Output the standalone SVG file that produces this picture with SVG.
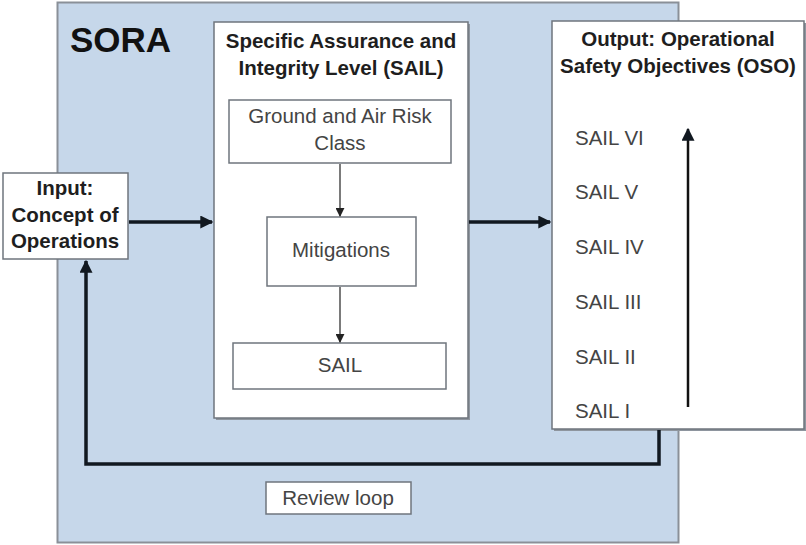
<svg xmlns="http://www.w3.org/2000/svg" width="806" height="545" viewBox="0 0 806 545">
<defs>
<style>
.box{fill:#ffffff;stroke:#6f757d;stroke-width:1.5}
.shadow{fill:#8e959e}
.title{font-family:"Liberation Sans",Arial,sans-serif;font-weight:bold;font-size:20.5px;fill:#1e1e1e;text-anchor:middle}
.lbl{font-family:"Liberation Sans",Arial,sans-serif;font-size:20.5px;fill:#444;text-anchor:middle}
.sail{font-family:"Liberation Sans",Arial,sans-serif;font-size:20.5px;fill:#444}
.thick{stroke:#111820;stroke-width:3.5;fill:none}
.thin{stroke:#333;stroke-width:1.3;fill:none}
</style>
<marker id="big" viewBox="0 0 10 10" refX="9" refY="5" markerWidth="13" markerHeight="13" markerUnits="userSpaceOnUse" orient="auto">
<path d="M0,0 L10,5 L0,10 z" fill="#111820"/>
</marker>
<marker id="small" viewBox="0 0 10 10" refX="9" refY="5" markerWidth="9" markerHeight="9" markerUnits="userSpaceOnUse" orient="auto">
<path d="M0,0 L10,5 L0,10 z" fill="#222"/>
</marker>
</defs>
<rect width="806" height="545" fill="#ffffff"/>
<g id="sora">
<rect x="57.5" y="2.5" width="621" height="540" fill="#c6d7ea" stroke="#8a9098" stroke-width="2"/>
<text x="70" y="52" font-family="'Liberation Sans',Arial,sans-serif" font-weight="bold" font-size="35" fill="#111">SORA</text>
</g>
<g id="input">
<rect class="box" x="3" y="173" width="125" height="86"/>
<text class="title" x="65" y="195">Input:</text>
<text class="title" x="65" y="222">Concept of</text>
<text class="title" x="65" y="248">Operations</text>
</g>
<g id="sail-panel">
<rect class="shadow" x="216" y="24" width="254" height="396"/>
<rect class="box" x="214" y="22" width="254" height="396"/>
<text class="title" x="341" y="48">Specific Assurance and</text>
<text class="title" x="341" y="75">Integrity Level (SAIL)</text>
</g>
<g id="risk-class">
<rect class="box" x="229" y="100" width="222" height="63"/>
<text class="lbl" x="340" y="123">Ground and Air Risk</text>
<text class="lbl" x="340" y="150">Class</text>
</g>
<g id="mitigations">
<rect class="box" x="267" y="217" width="149" height="69"/>
<text class="lbl" x="341" y="257">Mitigations</text>
</g>
<g id="sail">
<rect class="box" x="233" y="343" width="213" height="46"/>
<text class="lbl" x="340" y="372">SAIL</text>
</g>
<g id="output">
<rect class="shadow" x="554" y="23" width="252" height="408"/>
<rect class="box" x="552" y="21" width="252" height="408"/>
<text class="title" x="678" y="46">Output: Operational</text>
<text class="title" x="678" y="73">Safety Objectives (OSO)</text>
<text class="sail" x="575" y="145">SAIL VI</text>
<text class="sail" x="575" y="199">SAIL V</text>
<text class="sail" x="575" y="254">SAIL IV</text>
<text class="sail" x="575" y="309">SAIL III</text>
<text class="sail" x="575" y="364">SAIL II</text>
<text class="sail" x="575" y="418">SAIL I</text>
</g>
<g id="review-loop">
<rect class="box" x="266" y="482" width="145" height="32"/>
<text class="lbl" x="338" y="505">Review loop</text>
</g>
<g id="connectors">
<line class="thick" x1="129" y1="222" x2="212" y2="222" marker-end="url(#big)"/>
<line class="thick" x1="469" y1="222" x2="550" y2="222" marker-end="url(#big)"/>
<polyline class="thick" points="659,430 659,464 86,464 86,261" marker-end="url(#big)"/>
<line class="thin" x1="340" y1="164" x2="340" y2="216" marker-end="url(#small)"/>
<line class="thin" x1="340" y1="287" x2="340" y2="342" marker-end="url(#small)"/>
<line stroke="#111" stroke-width="2.5" x1="688" y1="407" x2="688" y2="129" marker-end="url(#big)"/>
</g>
</svg>
